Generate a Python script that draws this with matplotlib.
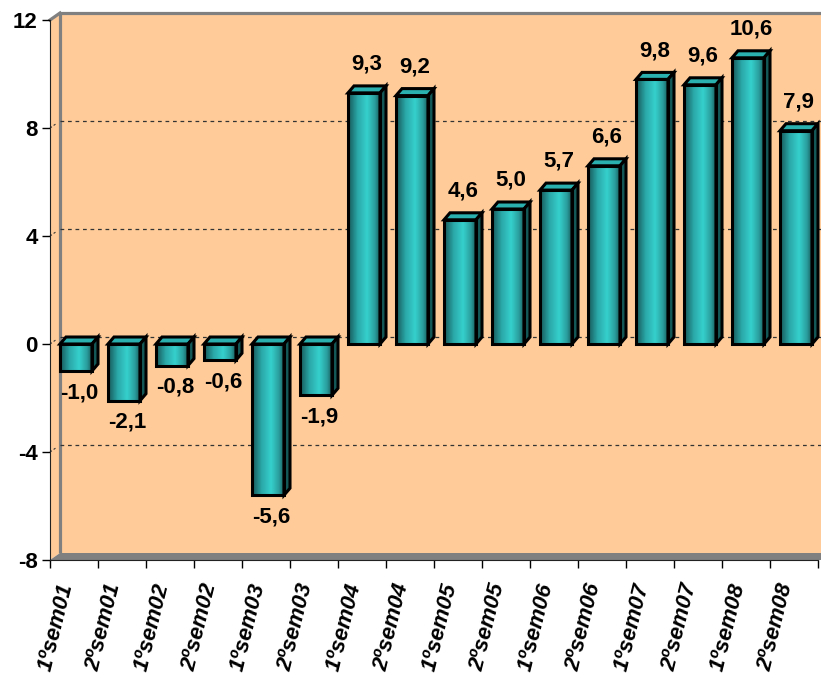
import numpy as np
import matplotlib
matplotlib.use("Agg")
import matplotlib.pyplot as plt
import matplotlib.transforms as mtransforms
from matplotlib.patches import Polygon, Rectangle
from matplotlib.colors import LinearSegmentedColormap

categories = ['1ºsem01', '2ºsem01', '1ºsem02', '2ºsem02', '1ºsem03', '2ºsem03',
              '1ºsem04', '2ºsem04', '1ºsem05', '2ºsem05', '1ºsem06', '2ºsem06',
              '1ºsem07', '2ºsem07', '1ºsem08', '2ºsem08']
values = [-1.0, -2.1, -0.8, -0.6, -5.6, -1.9, 9.3, 9.2,
          4.6, 5.0, 5.7, 6.6, 9.8, 9.6, 10.6, 7.9]
y_ticks = [-8, -4, 0, 4, 8, 12]

plt.rcParams['font.family'] = ['Liberation Sans', 'DejaVu Sans']
plt.rcParams['font.weight'] = 'bold'

fig = plt.figure(figsize=(8.21, 6.84), dpi=100)
ax = fig.add_axes([50 / 821, 124 / 684, 768 / 821, 540 / 684])
n = len(categories)
ymin, ymax = y_ticks[0], y_ticks[-1]

# depth of the fake 3d look, data units
wdx, dy = 10 / 48, 7 / 27
bdx = 6 / 48
bar_off, bar_w = 10 / 48, 32 / 48

peach = '#FFCC99'
wall_gray = '#808080'

# walls
ax.add_patch(Polygon([(wdx, ymin + dy), (n + 1, ymin + dy), (n + 1, ymax + dy), (wdx, ymax + dy)],
                     closed=True, facecolor=peach, edgecolor='none', zorder=0, clip_on=False))
ax.add_patch(Polygon([(0, ymin), (wdx, ymin + dy), (wdx, ymax + dy), (0, ymax)],
                     closed=True, facecolor=peach, edgecolor='none', zorder=0, clip_on=False))
ax.add_patch(Polygon([(0, ymin), (n + 1, ymin), (n + 1, ymin + dy), (wdx, ymin + dy)],
                     closed=True, facecolor=wall_gray, edgecolor='none', zorder=0.5, clip_on=False))
ax.plot([wdx, wdx, n + 1], [ymin + dy, ymax + dy, ymax + dy], color=wall_gray, lw=2.3,
        zorder=0.6, clip_on=False, solid_capstyle='butt')
ax.plot([0, wdx], [ymax, ymax + dy], color=wall_gray, lw=2.3, zorder=0.6, clip_on=False)

# dashed gridlines on the back wall
for yv in y_ticks[1:-1]:
    ax.plot([wdx, n + 1], [yv + dy, yv + dy], color='#333333', lw=0.9,
            dashes=(3, 3), zorder=1, clip_on=False)
    ax.plot([0, wdx * 0.6], [yv, yv + dy * 0.6], color='#333333', lw=0.8,
            dashes=(2, 2), zorder=1, clip_on=False)

# bars
cmap = LinearSegmentedColormap.from_list(
    'teal', [(0, '#185858'), (0.12, '#1f7878'), (0.3, '#2aa8a8'),
             (0.6, '#36d0cc'), (0.85, '#2a9e9e'), (1, '#1a5e5e')])
grad = cmap(np.linspace(0, 1, 64))[np.newaxis, :, :3]

for i, v in enumerate(values):
    x0 = i + bar_off
    lo, hi = min(0, v), max(0, v)
    ax.imshow(grad, extent=(x0, x0 + bar_w, lo, hi), aspect='auto',
              interpolation='bilinear', zorder=3)
    ax.add_patch(Rectangle((x0, lo), bar_w, hi - lo, facecolor='none',
                           edgecolor='black', lw=2.2, zorder=3.5, joinstyle='miter'))
    ax.add_patch(Polygon([(x0, hi), (x0 + bar_w, hi), (x0 + bar_w + bdx, hi + dy), (x0 + bdx, hi + dy)],
                         closed=True, facecolor='#2bb0b0', edgecolor='black', lw=2.2, zorder=3.4))
    ax.add_patch(Polygon([(x0 + bar_w, lo), (x0 + bar_w, hi), (x0 + bar_w + bdx, hi + dy),
                          (x0 + bar_w + bdx, lo + dy)],
                         closed=True, facecolor='#145858', edgecolor='black', lw=2.2, zorder=3.4,
                         clip_on=False))
    txt = f"{v:.1f}".replace('.', ',')
    cx = x0 + bar_w / 2 + 0.06
    if v >= 0:
        ax.annotate(txt, (cx, v + dy), xytext=(0, 8), textcoords='offset points',
                    ha='center', va='bottom', fontsize=16, fontweight='bold', zorder=5)
    else:
        ax.annotate(txt, (cx, v), xytext=(0, -8), textcoords='offset points',
                    ha='center', va='top', fontsize=16, fontweight='bold', zorder=5)

ax.set_xlim(0, n)
ax.set_ylim(ymin, ymax)

ax.set_yticks(y_ticks)
ax.set_yticklabels([str(t) for t in y_ticks], fontsize=16, fontweight='bold')
ax.tick_params(axis='y', length=6, width=1, pad=3)

ax.set_xticks(np.arange(n + 1))
ax.set_xticklabels([])
ax.set_xticks(np.arange(n) + 0.5, minor=True)
ax.set_xticklabels(categories, minor=True, rotation=76, ha='right', va='center',
                   rotation_mode='anchor', fontsize=16, fontweight='bold', fontstyle='italic')
ax.tick_params(axis='x', which='major', length=6, width=1)
ax.tick_params(axis='x', which='minor', length=0, pad=17)
shift = mtransforms.ScaledTranslation(-7 / 100, 0, fig.dpi_scale_trans)
for lbl in ax.get_xticklabels(minor=True):
    lbl.set_transform(lbl.get_transform() + shift)

for s in ['top', 'right']:
    ax.spines[s].set_visible(False)
ax.spines['left'].set_color('#222222')
ax.spines['bottom'].set_color('#222222')
ax.spines['left'].set_zorder(2)
ax.set_facecolor('none')

fig.savefig('out.png', dpi=100)
